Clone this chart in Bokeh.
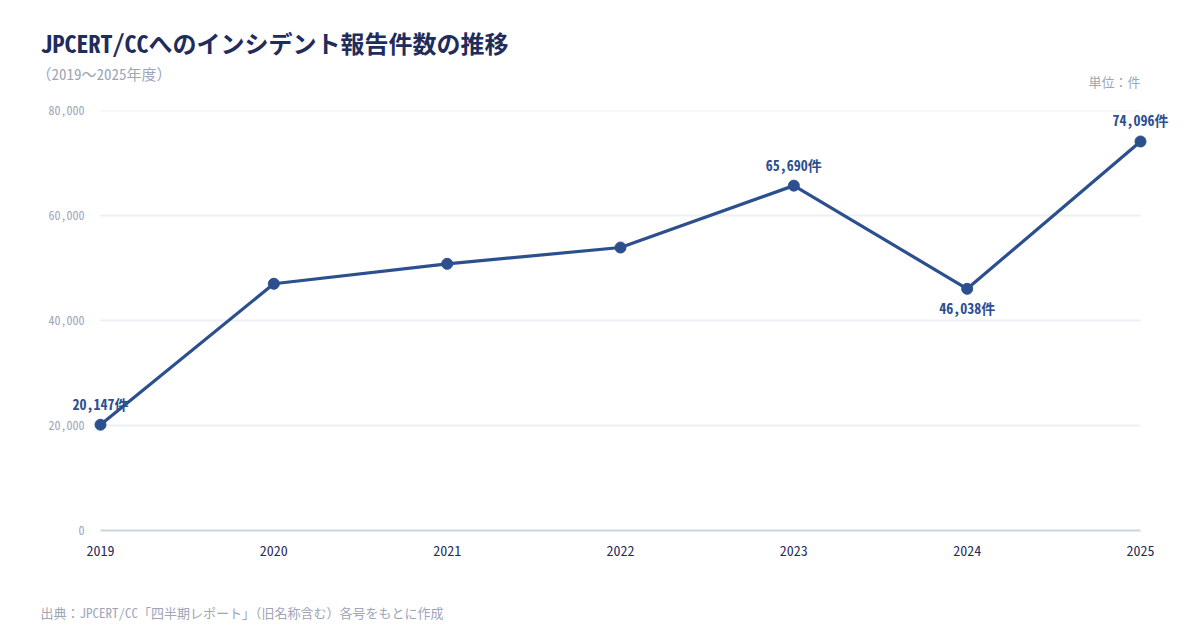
from bokeh.plotting import figure
from bokeh.layouts import column
from bokeh.models import Range1d, FixedTicker, NumeralTickFormatter, ColumnDataSource
from bokeh.core.properties import value
from bokeh.embed import file_html
from bokeh.resources import INLINE

# data (FY, reported incidents)
years = [2019, 2020, 2021, 2022, 2023, 2024, 2025]
counts = [20147, 47000, 50800, 53900, 65690, 46038, 74096]

# points that get a value label
above_years = [2019, 2023, 2025]
above_counts = [20147, 65690, 74096]
below_years = [2024]
below_counts = [46038]

y_ticks = [0, 20000, 40000, 60000, 80000]
grid_ticks = [20000, 40000, 60000, 80000]

title = "JPCERT/CCへのインシデント報告件数の推移"
subtitle = "（2019〜2025年度）"
unit = "単位：件"
source_note = "出典：JPCERT/CC「四半期レポート」（旧名称含む）各号をもとに作成"

FONT = "'Noto Sans Mono CJK JP', 'Noto Sans CJK JP', monospace"
NAVY = "#1f2d5c"
BLUE = "#2c4f8e"
GRAY = "#9ea5b8"
W = 1184
LEFT, RIGHT = 30, 9   # frame borders, shared by all three strips (column aligns frames)


def strip(height):
    # text-only strip, x data = page pixels, y grows downward
    f = figure(width=W, height=height, output_backend="svg", toolbar_location=None,
               x_range=Range1d(LEFT, W - RIGHT), y_range=Range1d(height, 0),
               x_axis_location=None, y_axis_location=None,
               min_border_left=LEFT, min_border_right=RIGHT,
               min_border_top=0, min_border_bottom=0)
    f.grid.grid_line_color = None
    f.outline_line_color = None
    return f


# header
head = strip(100)
head.text(x=[40], y=[42], text=[title], text_baseline="middle",
          text_font=value(FONT), text_font_size="24px", text_font_style="bold",
          text_color=NAVY)
head.text(x=[36], y=[73], text=[subtitle], text_baseline="middle",
          text_font=value(FONT), text_font_size="15px", text_color=GRAY)
head.text(x=[1140], y=[81], text=[unit], text_baseline="middle", text_align="right",
          text_font=value(FONT), text_font_size="13px", text_color=GRAY)

# main chart
p = figure(width=W, height=475, output_backend="svg", toolbar_location=None,
           x_range=Range1d(2018.5962, 2025.2019), y_range=Range1d(0, 80000),
           min_border_left=LEFT, min_border_right=RIGHT, min_border_top=10, min_border_bottom=45)
p.outline_line_color = None
p.xgrid.grid_line_color = None
p.ygrid.grid_line_color = None

# horizontal gridlines across the year span only
p.segment(x0=years[0], x1=years[-1], y0=grid_ticks, y1=grid_ticks,
          line_color="#eef0f5", line_width=2)

p.line(years, counts, line_color=BLUE, line_width=3.2)
p.scatter(years, counts, size=11, fill_color=BLUE, line_color=BLUE)

src_a = ColumnDataSource(dict(x=above_years, y=above_counts,
                              t=[f"{v:,}件" for v in above_counts]))
src_b = ColumnDataSource(dict(x=below_years, y=below_counts,
                              t=[f"{v:,}件" for v in below_counts]))
p.text(x="x", y="y", text="t", source=src_a, text_align="center", text_baseline="middle",
       y_offset=-21, text_font=value(FONT), text_font_size="14px",
       text_font_style="bold", text_color=BLUE)
p.text(x="x", y="y", text="t", source=src_b, text_align="center", text_baseline="middle",
       y_offset=19, text_font=value(FONT), text_font_size="14px",
       text_font_style="bold", text_color=BLUE)

xa = p.xaxis[0]
xa.ticker = FixedTicker(ticks=years)
xa.bounds = (years[0], years[-1])
xa.axis_line_color = "#ccd4e2"
xa.axis_line_width = 2
xa.major_tick_line_color = None
xa.minor_tick_line_color = None
xa.major_tick_out = 0
xa.major_label_standoff = 14
xa.major_label_text_font = FONT
xa.major_label_text_font_size = "14px"
xa.major_label_text_font_style = "normal"
xa.major_label_text_color = NAVY

ya = p.yaxis[0]
ya.ticker = FixedTicker(ticks=y_ticks)
ya.formatter = NumeralTickFormatter(format="0,0")
ya.axis_line_color = None
ya.major_tick_line_color = None
ya.minor_tick_line_color = None
ya.major_tick_out = 0
ya.major_label_standoff = LEFT - 84
ya.major_label_text_font = FONT
ya.major_label_text_font_size = "12px"
ya.major_label_text_color = GRAY

# footer
foot = strip(49)
foot.text(x=[40], y=[37], text=[source_note], text_baseline="middle",
          text_font=value(FONT), text_font_size="13px", text_color=GRAY)

layout = column(head, p, foot, spacing=0)
open("out.html", "w").write(file_html(layout, INLINE))
